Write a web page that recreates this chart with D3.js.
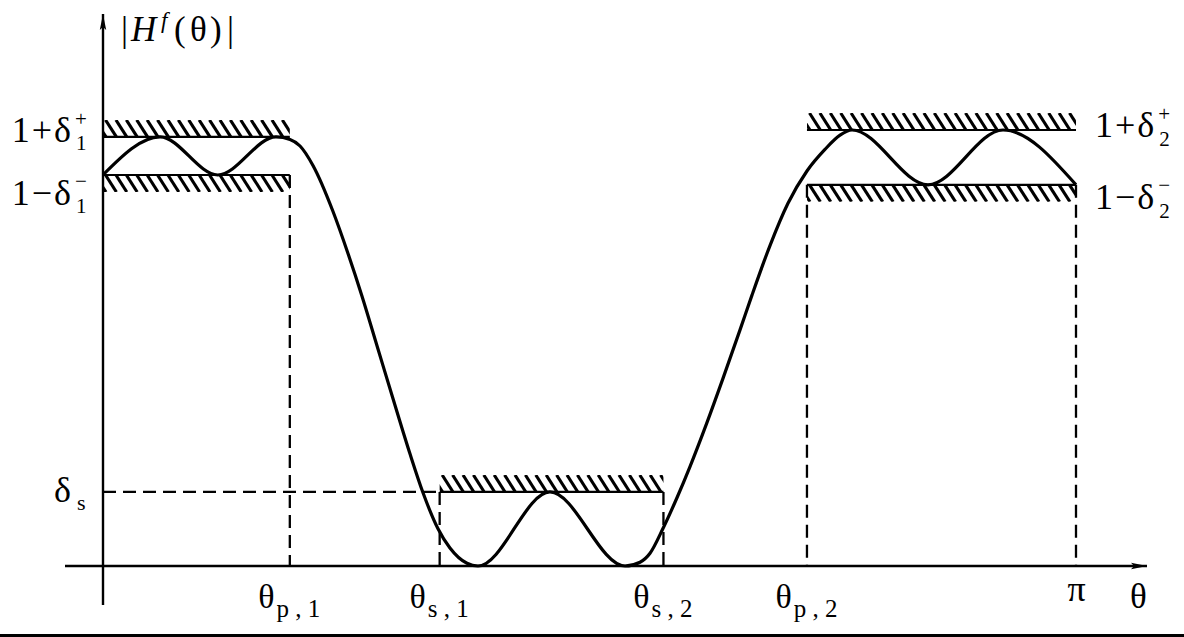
<!DOCTYPE html>
<html><head><meta charset="utf-8">
<script src="https://cdn.jsdelivr.net/npm/d3@7/dist/d3.min.js"></script>
<style>
html,body{margin:0;padding:0;background:#fff;}
</style></head>
<body><svg id="c" width="1184" height="637"></svg>
<script>
// ---- data (theta expressed as a fraction of pi, magnitude |H^f|) ----
const curveTheta = [0, 0.0586, 0.118, 0.1778,
                    0.1922, 0.2025, 0.2158, 0.2364, 0.2518, 0.2662, 0.2816, 0.2980, 0.3155, 0.3289,
                    0.3443, 0.3566, 0.3741, 0.3854,
                    0.4594, 0.5365,
                    0.5519, 0.5622, 0.5755, 0.5899, 0.6033, 0.6208, 0.6372, 0.6547, 0.6670, 0.6855,
                    0.7040, 0.7235, 0.7420, 0.7575, 0.7698,
                    0.8479, 0.9250, 1.0];
const curveMag   = [0.956, 1.049, 0.956, 1.049,
                    1.0430, 1.0269, 0.9792, 0.8667, 0.7641, 0.6597, 0.5386, 0.4095, 0.2743, 0.1790,
                    0.0910, 0.0440, 0.0066, 0.0,
                    0.181, 0.0,
                    0.0092, 0.0312, 0.0916, 0.1669, 0.2432, 0.3512, 0.4588, 0.5773, 0.6623, 0.7834,
                    0.8868, 0.9658, 1.0186, 1.0534, 1.066,
                    0.932, 1.066, 0.932];
const bandEdges = {thetaP1: 0.192, thetaS1: 0.346, thetaS2: 0.576, thetaP2: 0.7235, pi: 1.0};
const passUpper = [1.049, 1.066];   // 1+δ1+, 1+δ2+
const passLower = [0.956, 0.932];   // 1−δ1−, 1−δ2−
const deltaS = 0.181;
const xTickValues = [0.192, 0.346, 0.576, 0.7235, 1.0];
const xTickMain = ["θ", "θ", "θ", "θ", "π"];
const xTickSub  = ["p , 1", "s , 1", "s , 2", "p , 2", ""];

const FONT = "'Liberation Serif', 'Times New Roman', 'DejaVu Serif', serif";
const svg = d3.select("#c").attr("font-family", FONT);
const x = d3.scaleLinear().domain([0, 1]).range([103, 1076]);
const y = d3.scaleLinear().domain([0, 1]).range([566, 157]);

svg.append("defs");
let clipId = 0;
function hatch(x0, x1, yTop, yBot) {
  const id = "hc" + (clipId++);
  svg.select("defs").append("clipPath").attr("id", id)
    .append("rect").attr("x", x0).attr("y", yTop).attr("width", x1 - x0).attr("height", yBot - yTop);
  const h = yBot - yTop, dx = 0.64 * h;
  svg.append("g").attr("clip-path", `url(#${id})`)
    .selectAll("line").data(d3.range(x0 - dx + 3, x1 + 2, 10.4)).join("line")
    .attr("x1", d => d).attr("y1", yTop).attr("x2", d => d + dx).attr("y2", yBot)
    .attr("stroke", "#000").attr("stroke-width", 3.1);
}
function hline(x0, x1, yy, w) {
  svg.append("line").attr("x1", x0).attr("x2", x1).attr("y1", yy).attr("y2", yy)
    .attr("stroke", "#000").attr("stroke-width", w || 2.2);
}
function dashed(x0, y0, x1, y1) {
  svg.append("line").attr("x1", x0).attr("y1", y0).attr("x2", x1).attr("y2", y1)
    .attr("stroke", "#000").attr("stroke-width", 2.3).attr("stroke-dasharray", "13,7");
}

// ---- tolerance bands ----
const HT = 17;
hatch(x(0), x(bandEdges.thetaP1), y(passUpper[0]) - HT, y(passUpper[0]));
hline(x(0), x(bandEdges.thetaP1), y(passUpper[0]));
hatch(x(0), x(bandEdges.thetaP1), y(passLower[0]), y(passLower[0]) + HT);
hline(x(0), x(bandEdges.thetaP1), y(passLower[0]));
hatch(x(bandEdges.thetaP2), x(bandEdges.pi), y(passUpper[1]) - HT, y(passUpper[1]));
hline(x(bandEdges.thetaP2), x(bandEdges.pi), y(passUpper[1]));
hatch(x(bandEdges.thetaP2), x(bandEdges.pi), y(passLower[1]), y(passLower[1]) + HT);
hline(x(bandEdges.thetaP2), x(bandEdges.pi), y(passLower[1]));
hatch(x(bandEdges.thetaS1), x(bandEdges.thetaS2), y(deltaS) - HT, y(deltaS));
hline(x(bandEdges.thetaS1), x(bandEdges.thetaS2), y(deltaS));

// ---- dashed guides ----
dashed(x(0), y(deltaS), x(bandEdges.thetaS1), y(deltaS));
dashed(x(bandEdges.thetaP1), y(passLower[0]), x(bandEdges.thetaP1), y(0));
dashed(x(bandEdges.thetaS1), y(deltaS), x(bandEdges.thetaS1), y(0));
dashed(x(bandEdges.thetaS2), y(deltaS), x(bandEdges.thetaS2), y(0));
dashed(x(bandEdges.thetaP2), y(passLower[1]), x(bandEdges.thetaP2), y(0));
dashed(x(bandEdges.pi), y(passLower[1]), x(bandEdges.pi), y(0));

// ---- axes ----
svg.select("defs").append("marker").attr("id", "arr").attr("viewBox", "0 0 16 8")
  .attr("refX", 16).attr("refY", 4).attr("markerWidth", 16).attr("markerHeight", 8)
  .attr("markerUnits", "userSpaceOnUse").attr("orient", "auto")
  .append("path").attr("d", "M0,0.8 L16,4 L0,7.2 L3,4 Z").attr("fill", "#000");

svg.append("line").attr("x1", 65).attr("y1", y(0)).attr("x2", 1147).attr("y2", y(0))
  .attr("stroke", "#000").attr("stroke-width", 2.4).attr("marker-end", "url(#arr)");
svg.append("line").attr("x1", x(0)).attr("y1", 605).attr("x2", x(0)).attr("y2", 14)
  .attr("stroke", "#000").attr("stroke-width", 2.4).attr("marker-end", "url(#arr)");

const xAxis = d3.axisBottom(x).tickValues(xTickValues).tickSize(0).tickFormat("");
const gx = svg.append("g").attr("transform", `translate(0,${y(0)})`).call(xAxis)
  .attr("font-family", FONT);
gx.select(".domain").remove();
gx.selectAll(".tick").each(function(d, i) {
  const t = d3.select(this).append("text").attr("text-anchor", "middle")
    .attr("x", xTickSub[i] ? -1 : 0).attr("y", xTickSub[i] ? 42 : 35)
    .attr("font-size", xTickSub[i] ? 34 : 36).attr("fill", "#000");
  t.append("tspan").text(xTickMain[i]);
  if (xTickSub[i]) t.append("tspan").attr("dy", 9).attr("dx", 2).attr("font-size", 25).text(xTickSub[i]);
});

// ---- response curve ----
const pts = curveTheta.map((t, i) => [t, curveMag[i]]);
svg.append("path").datum(pts)
  .attr("d", d3.line().x(d => x(d[0])).y(d => y(d[1])).curve(d3.curveMonotoneX))
  .attr("fill", "none").attr("stroke", "#000").attr("stroke-width", 3.2);

// ---- labels ----
function deltaLabel(xStart, xEnd, baseline, main, sup, sub, supDy, subDy) {
  const t = svg.append("text").attr("y", baseline).attr("font-size", 36)
    .attr("letter-spacing", "2px").text(main);
  let w = t.node().getComputedTextLength();
  const x0 = xEnd != null ? xEnd - w : xStart;
  t.attr("x", x0);
  const xs = x0 + w + 2;
  svg.append("text").attr("x", xs).attr("y", baseline + supDy).attr("font-size", 21).text(sup);
  svg.append("text").attr("x", xs + 1).attr("y", baseline + subDy).attr("font-size", 21).text(sub);
}
deltaLabel(null, 73, y(passUpper[0]) + 5, "1+δ", "+", "1", -16, 8);
deltaLabel(null, 73, y(passLower[0]) + 30, "1−δ", "−", "1", -17, 8);
deltaLabel(1095, null, y(passUpper[1]) + 7, "1+δ", "+", "2", -16, 9);
deltaLabel(1095, null, y(passLower[1]) + 24, "1−δ", "−", "2", -17, 9);
svg.append("text").attr("x", 54).attr("y", y(deltaS) + 10).attr("font-size", 36).text("δ");
svg.append("text").attr("x", 77).attr("y", y(deltaS) + 18).attr("font-size", 22).text("s");

// axis titles
const yt = svg.append("text").attr("y", 41).attr("font-size", 35);
yt.append("tspan").attr("x", 121).text("|");
yt.append("tspan").attr("x", 131).attr("font-style", "italic").text("H");
yt.append("tspan").attr("x", 161).attr("font-style", "italic").attr("font-size", 23).attr("dy", -13).text("f");
yt.append("tspan").attr("x", 174).attr("dy", 13).text("(");
yt.append("tspan").attr("x", 190).text("θ");
yt.append("tspan").attr("x", 210).text(")");
yt.append("tspan").attr("x", 227).text("|");
svg.append("text").attr("x", 1130).attr("y", 608).attr("font-size", 35).text("θ");

// bottom border line
svg.append("rect").attr("x", 0).attr("y", 634).attr("width", 1184).attr("height", 3).attr("fill", "#000");
</script></body></html>
